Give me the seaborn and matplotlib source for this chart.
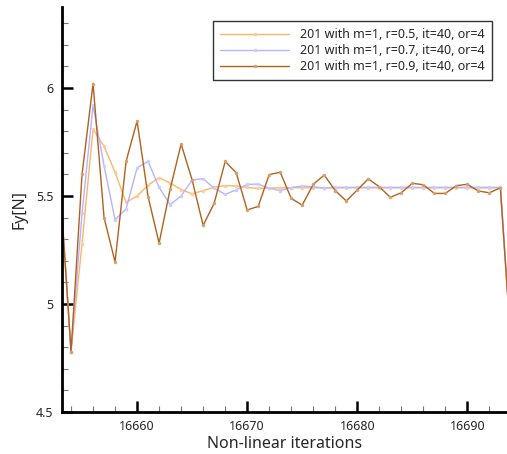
import pandas as pd
import matplotlib.pyplot as plt
from matplotlib.ticker import MultipleLocator
import seaborn as sns

iterations = list(range(16653, 16695))

fy_r05 = [5.55, 4.78, 5.28, 5.81, 5.73, 5.61, 5.47, 5.50, 5.55, 5.585,
          5.56, 5.53, 5.51, 5.525, 5.54, 5.548, 5.546, 5.54, 5.535, 5.537,
          5.538, 5.538, 5.538, 5.538, 5.538, 5.538, 5.538, 5.538, 5.538, 5.538,
          5.538, 5.538, 5.538, 5.538, 5.538, 5.538, 5.538, 5.538, 5.538, 5.538,
          5.538, 4.78]
fy_r07 = [5.55, 4.78, 5.42, 5.92, 5.64, 5.39, 5.44, 5.63, 5.66, 5.54,
          5.46, 5.50, 5.574, 5.58, 5.536, 5.508, 5.528, 5.554, 5.555, 5.536,
          5.525, 5.539, 5.546, 5.543, 5.537, 5.54, 5.54, 5.54, 5.54, 5.54,
          5.54, 5.54, 5.54, 5.54, 5.54, 5.54, 5.54, 5.54, 5.54, 5.54,
          5.54, 4.78]
fy_r09 = [5.55, 4.78, 5.60, 6.02, 5.40, 5.195, 5.66, 5.847, 5.497, 5.282,
          5.531, 5.741, 5.574, 5.364, 5.466, 5.66, 5.608, 5.435, 5.452, 5.599,
          5.61, 5.489, 5.458, 5.554, 5.597, 5.525, 5.477, 5.528, 5.579, 5.543,
          5.494, 5.515, 5.559, 5.552, 5.512, 5.512, 5.548, 5.554, 5.523, 5.515,
          5.538, 4.78]

labels = ["201 with m=1, r=0.5, it=40, or=4",
          "201 with m=1, r=0.7, it=40, or=4",
          "201 with m=1, r=0.9, it=40, or=4"]
colors = ["#FFB566", "#B4B4FF", "#B0621E"]
marker_colors = ["#FFCB99", "#CCCCFF", "#D4A070"]

df = pd.concat([
    pd.DataFrame({"it": iterations, "Fy": vals, "case": lab})
    for vals, lab in zip([fy_r05, fy_r07, fy_r09], labels)
])

sns.set_style("white")
plt.rcParams['font.family'] = ['Noto Sans', 'DejaVu Sans']

fig = plt.figure(figsize=(5.07, 4.54), dpi=100)
ax = fig.add_axes([62 / 507, 1 - 412 / 454, 445 / 507, 405 / 454])

sns.lineplot(data=df, x="it", y="Fy", hue="case", palette=colors,
             marker="o", markersize=2, linewidth=1, markeredgewidth=0.5,
             ax=ax)
for line, mc in zip(ax.get_lines(), marker_colors):
    line.set_markerfacecolor(mc)
    line.set_markeredgecolor(mc)

ax.set_xlim(16653.18, 16693.6)
ax.set_ylim(4.5, 6.375)
ax.xaxis.set_major_locator(MultipleLocator(10))
ax.xaxis.set_minor_locator(MultipleLocator(2))
ax.yaxis.set_major_locator(MultipleLocator(0.5))
ax.yaxis.set_minor_locator(MultipleLocator(0.1))
ax.set_yticks([4.5, 5, 5.5, 6])
ax.set_yticklabels(["4.5", "5", "5.5", "6"])

ax.tick_params(which="major", direction="in", length=8, width=1.8,
               labelsize=9, color="black", pad=6)
ax.tick_params(which="minor", direction="in", length=4, width=0.8,
               color="#777777")
ax.tick_params(axis="y", which="both", left=True)
ax.tick_params(axis="x", which="both", bottom=True)

for side in ["top", "right"]:
    ax.spines[side].set_visible(False)
for side in ["left", "bottom"]:
    ax.spines[side].set_linewidth(2)
    ax.spines[side].set_color("black")

ax.set_xlabel("Non-linear iterations", fontsize=11.5, fontweight="semibold",
              labelpad=2)
ax.set_ylabel("Fy[N]", fontsize=11.5, fontweight="semibold", labelpad=6)

h, l = ax.get_legend_handles_labels()
for hd, mc in zip(h, marker_colors):
    hd.set_markerfacecolor(mc)
    hd.set_markeredgecolor(mc)
leg = ax.legend(h, l, loc="upper right", bbox_to_anchor=(0.966, 0.965),
                fontsize=9, frameon=True, fancybox=False, handlelength=5.5,
                borderpad=0.55, labelspacing=0.25, handletextpad=0.9,
                borderaxespad=0)
leg.get_frame().set_edgecolor("black")
leg.get_frame().set_linewidth(1)

fig.savefig("out.png", dpi=100)
